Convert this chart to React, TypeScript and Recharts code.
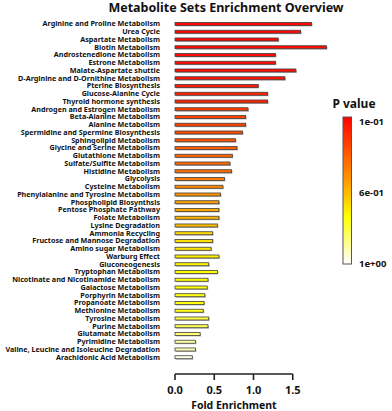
import React from 'react';
import { BarChart, Bar, XAxis, YAxis, Label } from 'recharts';

const categories = [
  'Arginine and Proline Metabolism',
  'Urea Cycle',
  'Aspartate Metabolism',
  'Biotin Metabolism',
  'Androstenedione Metabolism',
  'Estrone Metabolism',
  'Malate-Aspartate shuttle',
  'D-Arginine and D-Ornithine Metabolism',
  'Pterine Biosynthesis',
  'Glucose-Alanine Cycle',
  'Thyroid hormone synthesis',
  'Androgen and Estrogen Metabolism',
  'Beta-Alanine Metabolism',
  'Alanine Metabolism',
  'Spermidine and Spermine Biosynthesis',
  'Sphingolipid Metabolism',
  'Glycine and Serine Metabolism',
  'Glutathione Metabolism',
  'Sulfate/Sulfite Metabolism',
  'Histidine Metabolism',
  'Glycolysis',
  'Cysteine Metabolism',
  'Phenylalanine and Tyrosine Metabolism',
  'Phospholipid Biosynthsis',
  'Pentose Phosphate Pathway',
  'Folate Metabolism',
  'Lysine Degradation',
  'Ammonia Recycling',
  'Fructose and Mannose Degradation',
  'Amino sugar Metabolism',
  'Warburg Effect',
  'Gluconeogenesis',
  'Tryptophan Metabolism',
  'Nicotinate and Nicotinamide Metabolism',
  'Galactose Metabolism',
  'Porphyrin Metabolism',
  'Propanoate Metabolism',
  'Methionine Metabolism',
  'Tyrosine Metabolism',
  'Purine Metabolism',
  'Glutamate Metabolism',
  'Pyrimidine Metabolism',
  'Valine, Leucine and Isoleucine Degradation',
  'Arachidonic Acid Metabolism',
];

const foldEnrichment = [
  1.74, 1.6, 1.315, 1.93, 1.28, 1.28, 1.54, 1.4, 1.06, 1.18, 1.18,
  0.93, 0.9, 0.9, 0.86, 0.77, 0.79, 0.73, 0.7, 0.72, 0.63, 0.61,
  0.58, 0.56, 0.56, 0.56, 0.54, 0.48, 0.48, 0.46, 0.56, 0.43, 0.54,
  0.42, 0.41, 0.38, 0.37, 0.36, 0.43, 0.42, 0.32, 0.26, 0.26, 0.22,
];

const pValues = [
  0.118, 0.118, 0.127, 0.127, 0.127, 0.127, 0.136, 0.145, 0.172, 0.19, 0.19,
  0.253, 0.271, 0.271, 0.289, 0.307, 0.334, 0.352, 0.37, 0.379, 0.424, 0.442,
  0.469, 0.505, 0.523, 0.55, 0.568, 0.622, 0.64, 0.658, 0.676, 0.694, 0.703,
  0.712, 0.721, 0.73, 0.73, 0.739, 0.784, 0.802, 0.838, 0.892, 0.919, 0.973,
];

const xTicks = [0, 0.5, 1, 1.5];
const legendTicks = ['1e-01', '6e-01', '1e+00'];

const X_MAX = 2;
const AXIS_END = 1.5;
const P_MIN = 0.1;
const P_MAX = 1;

const colorStops: [number, [number, number, number]][] = [
  [0, [255, 0, 0]],
  [0.45, [255, 160, 0]],
  [0.68, [255, 255, 0]],
  [1, [255, 255, 255]],
];

function pColor(p: number): string {
  const t = Math.min(1, Math.max(0, (p - P_MIN) / (P_MAX - P_MIN)));
  for (let i = 1; i < colorStops.length; i++) {
    const [t1, c1] = colorStops[i];
    const [t0, c0] = colorStops[i - 1];
    if (t <= t1) {
      const f = (t - t0) / (t1 - t0);
      const c = c0.map((v, k) => Math.round(v + (c1[k] - v) * f));
      return `rgb(${c[0]},${c[1]},${c[2]})`;
    }
  }
  return 'rgb(255,255,255)';
}

const data = categories.map((name, i) => ({ name, fold: foldEnrichment[i], p: pValues[i] }));

const FONT = '"Noto Sans", "DejaVu Sans", sans-serif';

const BarShape = (props: any) => {
  const { x, y, width, height, payload } = props;
  if (!width || width <= 0) return null;
  return (
    <g>
      <rect x={x + 1} y={y + 1} width={width} height={height} fill="#b8b8b8" />
      <rect x={x} y={y} width={width} height={height} fill={pColor(payload.p)} stroke="#404040" strokeWidth={0.8} />
    </g>
  );
};

const YTick = (props: any) => {
  const { x, y, payload } = props;
  return (
    <text x={x} y={y} dy="0.35em" textAnchor="end" fontFamily={FONT} fontWeight="bold" fontSize={7.2} fill="#111">
      {payload.value}
    </text>
  );
};

const AxisExtras = (props: any) => {
  const { x, y, width } = props.viewBox;
  const end = x + (width * AXIS_END) / X_MAX;
  return (
    <g>
      <line x1={x} y1={y} x2={end} y2={y} stroke="#222" strokeWidth={1.6} />
      <text
        x={(x + end) / 2}
        y={y + 35}
        textAnchor="middle"
        fontFamily={FONT}
        fontWeight="bold"
        fontSize={10.5}
        fill="#111"
      >
        Fold Enrichment
      </text>
    </g>
  );
};

const ColorLegend = () => {
  const barX = 343;
  const barTop = 117;
  const barBottom = 264;
  const n = legendTicks.length;
  return (
    <svg width={392} height={411} style={{ position: 'absolute', left: 0, top: 0, pointerEvents: 'none' }}>
      <defs>
        <linearGradient id="pgrad" x1="0" y1="0" x2="0" y2="1">
          {colorStops.map(([t, c]) => (
            <stop key={t} offset={t} stopColor={`rgb(${c[0]},${c[1]},${c[2]})`} />
          ))}
        </linearGradient>
      </defs>
      <text x={354} y={108} textAnchor="middle" fontFamily={FONT} fontWeight="bold" fontSize={12} fill="#111">
        P value
      </text>
      <rect x={barX} y={barTop} width={8.5} height={barBottom - barTop} fill="url(#pgrad)" stroke="#555" strokeWidth={1} />
      {legendTicks.map((lab, i) => {
        const yy = barTop + 5 + ((barBottom - barTop - 5) * i) / (n - 1);
        return (
          <text key={lab} x={359} y={yy} dy="0.35em" fontFamily={FONT} fontWeight="bold" fontSize={9.5} fill="#111">
            {lab}
          </text>
        );
      })}
    </svg>
  );
};

export default function App() {
  return (
    <div style={{ position: 'absolute', left: 0, top: 0, width: 392, height: 411, background: '#fff' }}>
      <div
        style={{
          position: 'absolute',
          left: 0,
          top: 0,
          width: 392,
          textAlign: 'center',
          fontFamily: FONT,
          fontWeight: 'bold',
          fontSize: 12.5,
          lineHeight: '15px',
          paddingLeft: 60,
          boxSizing: 'border-box',
          color: '#111',
        }}
      >
        Metabolite Sets Enrichment Overview
      </div>
      <div style={{ position: 'absolute', left: 0, top: 0 }}>
        <BarChart
          width={392}
          height={411}
          data={data}
          layout="vertical"
          margin={{ top: 20, right: 60, bottom: 0, left: 0 }}
          barCategoryGap="32%"
        >
          <XAxis
            type="number"
            dataKey="fold"
            domain={[0, X_MAX]}
            ticks={xTicks}
            tickFormatter={(v: number) => v.toFixed(1)}
            axisLine={false}
            tickLine={{ stroke: '#222', strokeWidth: 1.6 }}
            tickSize={6}
            tickMargin={6}
            height={37}
            tick={{ fontFamily: FONT, fontWeight: 'bold', fontSize: 11, fill: '#111' }}
            interval={0}
          >
            <Label content={AxisExtras} />
          </XAxis>
          <YAxis
            type="category"
            dataKey="name"
            width={175}
            axisLine={false}
            tickLine={false}
            tickSize={0}
            tickMargin={15}
            interval={0}
            padding={{ top: 0, bottom: 13 }}
            tick={YTick}
          />
          <Bar dataKey="fold" shape={BarShape} isAnimationActive={false} />
        </BarChart>
      </div>
      <ColorLegend />
    </div>
  );
}
